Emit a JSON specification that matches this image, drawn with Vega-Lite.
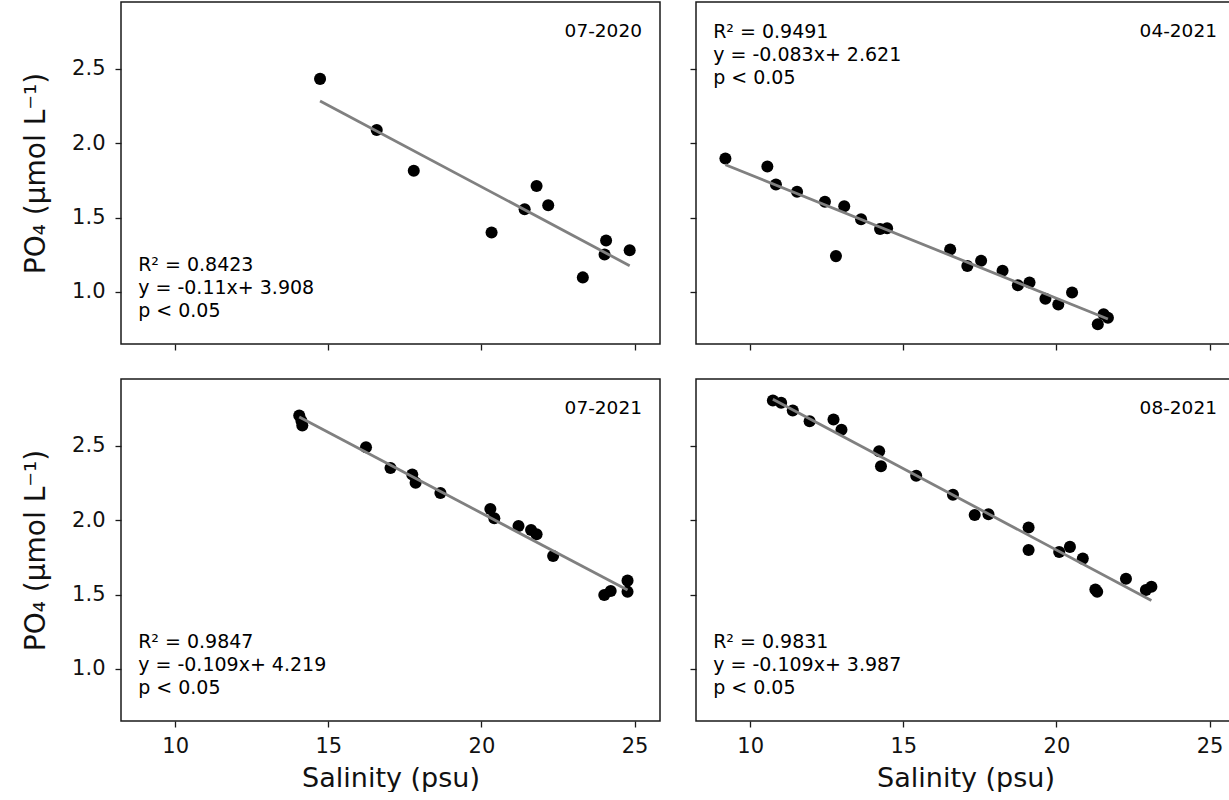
{
  "$schema": "https://vega.github.io/schema/vega-lite/v6.json",
  "background": "white",
  "padding": {"left": 21, "top": 1, "right": 0, "bottom": 0},
  "datasets": {
    "obs": [
      {"panel": "07-2020", "salinity": 14.73, "po4": 2.433},
      {"panel": "07-2020", "salinity": 16.58, "po4": 2.089},
      {"panel": "07-2020", "salinity": 17.79, "po4": 1.815},
      {"panel": "07-2020", "salinity": 20.33, "po4": 1.400},
      {"panel": "07-2020", "salinity": 21.41, "po4": 1.556},
      {"panel": "07-2020", "salinity": 21.80, "po4": 1.712},
      {"panel": "07-2020", "salinity": 22.18, "po4": 1.583},
      {"panel": "07-2020", "salinity": 23.31, "po4": 1.098},
      {"panel": "07-2020", "salinity": 24.02, "po4": 1.252},
      {"panel": "07-2020", "salinity": 24.07, "po4": 1.346},
      {"panel": "07-2020", "salinity": 24.84, "po4": 1.281},
      {"panel": "04-2021", "salinity": 9.19, "po4": 1.897},
      {"panel": "04-2021", "salinity": 10.56, "po4": 1.844},
      {"panel": "04-2021", "salinity": 10.84, "po4": 1.723},
      {"panel": "04-2021", "salinity": 11.53, "po4": 1.674},
      {"panel": "04-2021", "salinity": 12.44, "po4": 1.607},
      {"panel": "04-2021", "salinity": 13.07, "po4": 1.576},
      {"panel": "04-2021", "salinity": 12.80, "po4": 1.241},
      {"panel": "04-2021", "salinity": 13.62, "po4": 1.489},
      {"panel": "04-2021", "salinity": 14.24, "po4": 1.424},
      {"panel": "04-2021", "salinity": 14.47, "po4": 1.428},
      {"panel": "04-2021", "salinity": 16.53, "po4": 1.286},
      {"panel": "04-2021", "salinity": 17.09, "po4": 1.174},
      {"panel": "04-2021", "salinity": 17.54, "po4": 1.210},
      {"panel": "04-2021", "salinity": 18.24, "po4": 1.143},
      {"panel": "04-2021", "salinity": 18.74, "po4": 1.045},
      {"panel": "04-2021", "salinity": 19.12, "po4": 1.063},
      {"panel": "04-2021", "salinity": 19.64, "po4": 0.955},
      {"panel": "04-2021", "salinity": 20.06, "po4": 0.915},
      {"panel": "04-2021", "salinity": 20.51, "po4": 0.996},
      {"panel": "04-2021", "salinity": 21.35, "po4": 0.783},
      {"panel": "04-2021", "salinity": 21.54, "po4": 0.850},
      {"panel": "04-2021", "salinity": 21.68, "po4": 0.826},
      {"panel": "07-2021", "salinity": 14.05, "po4": 2.705},
      {"panel": "07-2021", "salinity": 14.12, "po4": 2.670},
      {"panel": "07-2021", "salinity": 14.15, "po4": 2.637},
      {"panel": "07-2021", "salinity": 16.23, "po4": 2.491},
      {"panel": "07-2021", "salinity": 17.03, "po4": 2.352},
      {"panel": "07-2021", "salinity": 17.74, "po4": 2.307},
      {"panel": "07-2021", "salinity": 17.85, "po4": 2.253},
      {"panel": "07-2021", "salinity": 18.66, "po4": 2.183},
      {"panel": "07-2021", "salinity": 20.29, "po4": 2.075},
      {"panel": "07-2021", "salinity": 20.42, "po4": 2.014},
      {"panel": "07-2021", "salinity": 21.21, "po4": 1.962},
      {"panel": "07-2021", "salinity": 21.62, "po4": 1.935},
      {"panel": "07-2021", "salinity": 21.80, "po4": 1.906},
      {"panel": "07-2021", "salinity": 22.34, "po4": 1.760},
      {"panel": "07-2021", "salinity": 24.01, "po4": 1.497},
      {"panel": "07-2021", "salinity": 24.22, "po4": 1.524},
      {"panel": "07-2021", "salinity": 24.77, "po4": 1.594},
      {"panel": "07-2021", "salinity": 24.77, "po4": 1.520},
      {"panel": "08-2021", "salinity": 10.74, "po4": 2.806},
      {"panel": "08-2021", "salinity": 11.01, "po4": 2.790},
      {"panel": "08-2021", "salinity": 11.39, "po4": 2.738},
      {"panel": "08-2021", "salinity": 11.94, "po4": 2.666},
      {"panel": "08-2021", "salinity": 12.72, "po4": 2.678},
      {"panel": "08-2021", "salinity": 12.98, "po4": 2.608},
      {"panel": "08-2021", "salinity": 14.21, "po4": 2.464},
      {"panel": "08-2021", "salinity": 14.27, "po4": 2.363},
      {"panel": "08-2021", "salinity": 15.42, "po4": 2.300},
      {"panel": "08-2021", "salinity": 16.62, "po4": 2.172},
      {"panel": "08-2021", "salinity": 17.33, "po4": 2.035},
      {"panel": "08-2021", "salinity": 17.78, "po4": 2.041},
      {"panel": "08-2021", "salinity": 19.09, "po4": 1.951},
      {"panel": "08-2021", "salinity": 19.09, "po4": 1.800},
      {"panel": "08-2021", "salinity": 20.09, "po4": 1.787},
      {"panel": "08-2021", "salinity": 20.44, "po4": 1.821},
      {"panel": "08-2021", "salinity": 20.86, "po4": 1.742},
      {"panel": "08-2021", "salinity": 21.27, "po4": 1.535},
      {"panel": "08-2021", "salinity": 21.33, "po4": 1.520},
      {"panel": "08-2021", "salinity": 22.27, "po4": 1.607},
      {"panel": "08-2021", "salinity": 22.92, "po4": 1.531},
      {"panel": "08-2021", "salinity": 23.10, "po4": 1.553}
    ],
    "notes": [
      {"panel": "07-2020", "label": "07-2020", "stats": ["R² = 0.8423", "y = -0.11x+ 3.908", "p < 0.05"]},
      {"panel": "04-2021", "label": "04-2021", "stats": ["R² = 0.9491", "y = -0.083x+ 2.621", "p < 0.05"]},
      {"panel": "07-2021", "label": "07-2021", "stats": ["R² = 0.9847", "y = -0.109x+ 4.219", "p < 0.05"]},
      {"panel": "08-2021", "label": "08-2021", "stats": ["R² = 0.9831", "y = -0.109x+ 3.987", "p < 0.05"]}
    ]
  },
  "columns": 2,
  "spacing": {"row": 26, "column": 27},
  "concat": [
    {
      "width": 539, "height": 342,
      "layer": [
        {
          "data": {"name": "obs"},
          "transform": [{"filter": "datum.panel === '07-2020'"}],
          "mark": {"type": "point", "filled": true, "color": "black", "opacity": 1, "size": 145},
          "encoding": {
            "x": {"field": "salinity", "type": "quantitative", "title": null, "scale": {"domain": [8.23, 25.83], "nice": false, "zero": false}, "axis": {"labels": false, "values": [10, 15, 20, 25]}},
            "y": {"field": "po4", "type": "quantitative", "title": "PO₄ (μmol L⁻¹)", "scale": {"domain": [0.65, 2.95], "nice": false, "zero": false}, "axis": {"values": [1.0, 1.5, 2.0, 2.5], "format": ".1f"}}
          }
        },
        {
          "data": {"name": "obs"},
          "transform": [{"filter": "datum.panel === '07-2020'"}, {"regression": "po4", "on": "salinity"}],
          "mark": {"type": "line", "color": "#808080", "strokeWidth": 2.8},
          "encoding": {
            "x": {"field": "salinity", "type": "quantitative", "title": null, "axis": {"labels": false, "values": [10, 15, 20, 25]}},
            "y": {"field": "po4", "type": "quantitative", "title": "PO₄ (μmol L⁻¹)", "axis": {"values": [1.0, 1.5, 2.0, 2.5], "format": ".1f"}}
          }
        },
        {
          "data": {"name": "notes"},
          "transform": [{"filter": "datum.panel === '07-2020'"}],
          "mark": {"type": "text", "align": "right", "baseline": "alphabetic", "font": "DejaVu Sans", "fontSize": 18.5, "color": "black"},
          "encoding": {
            "x": {"datum": 25.24, "type": "quantitative", "title": null, "axis": {"labels": false, "values": [10, 15, 20, 25]}},
            "y": {"datum": 2.715, "type": "quantitative", "title": "PO₄ (μmol L⁻¹)", "axis": {"values": [1.0, 1.5, 2.0, 2.5], "format": ".1f"}},
            "text": {"field": "label", "type": "nominal"}
          }
        },
        {
          "data": {"name": "notes"},
          "transform": [{"filter": "datum.panel === '07-2020'"}],
          "mark": {"type": "text", "align": "left", "baseline": "alphabetic", "font": "DejaVu Sans", "fontSize": 19, "lineHeight": 23, "color": "black"},
          "encoding": {
            "x": {"datum": 8.79, "type": "quantitative", "title": null, "axis": {"labels": false, "values": [10, 15, 20, 25]}},
            "y": {"datum": 1.141, "type": "quantitative", "title": "PO₄ (μmol L⁻¹)", "axis": {"values": [1.0, 1.5, 2.0, 2.5], "format": ".1f"}},
            "text": {"field": "stats", "type": "nominal"}
          }
        }
      ]
    },
    {
      "width": 539, "height": 342,
      "layer": [
        {
          "data": {"name": "obs"},
          "transform": [{"filter": "datum.panel === '04-2021'"}],
          "mark": {"type": "point", "filled": true, "color": "black", "opacity": 1, "size": 145},
          "encoding": {
            "x": {"field": "salinity", "type": "quantitative", "title": null, "scale": {"domain": [8.23, 25.83], "nice": false, "zero": false}, "axis": {"labels": false, "values": [10, 15, 20, 25]}},
            "y": {"field": "po4", "type": "quantitative", "title": null, "scale": {"domain": [0.65, 2.95], "nice": false, "zero": false}, "axis": {"labels": false, "values": [1.0, 1.5, 2.0, 2.5]}}
          }
        },
        {
          "data": {"name": "obs"},
          "transform": [{"filter": "datum.panel === '04-2021'"}, {"regression": "po4", "on": "salinity"}],
          "mark": {"type": "line", "color": "#808080", "strokeWidth": 2.8},
          "encoding": {
            "x": {"field": "salinity", "type": "quantitative", "title": null, "axis": {"labels": false, "values": [10, 15, 20, 25]}},
            "y": {"field": "po4", "type": "quantitative", "title": null, "axis": {"labels": false, "values": [1.0, 1.5, 2.0, 2.5]}}
          }
        },
        {
          "data": {"name": "notes"},
          "transform": [{"filter": "datum.panel === '04-2021'"}],
          "mark": {"type": "text", "align": "right", "baseline": "alphabetic", "font": "DejaVu Sans", "fontSize": 18.5, "color": "black"},
          "encoding": {
            "x": {"datum": 25.24, "type": "quantitative", "title": null, "axis": {"labels": false, "values": [10, 15, 20, 25]}},
            "y": {"datum": 2.715, "type": "quantitative", "title": null, "axis": {"labels": false, "values": [1.0, 1.5, 2.0, 2.5]}},
            "text": {"field": "label", "type": "nominal"}
          }
        },
        {
          "data": {"name": "notes"},
          "transform": [{"filter": "datum.panel === '04-2021'"}],
          "mark": {"type": "text", "align": "left", "baseline": "alphabetic", "font": "DejaVu Sans", "fontSize": 19, "lineHeight": 23, "color": "black"},
          "encoding": {
            "x": {"datum": 8.79, "type": "quantitative", "title": null, "axis": {"labels": false, "values": [10, 15, 20, 25]}},
            "y": {"datum": 2.705, "type": "quantitative", "title": null, "axis": {"labels": false, "values": [1.0, 1.5, 2.0, 2.5]}},
            "text": {"field": "stats", "type": "nominal"}
          }
        }
      ]
    },
    {
      "width": 539, "height": 342,
      "layer": [
        {
          "data": {"name": "obs"},
          "transform": [{"filter": "datum.panel === '07-2021'"}],
          "mark": {"type": "point", "filled": true, "color": "black", "opacity": 1, "size": 145},
          "encoding": {
            "x": {"field": "salinity", "type": "quantitative", "title": "Salinity (psu)", "scale": {"domain": [8.23, 25.83], "nice": false, "zero": false}, "axis": {"values": [10, 15, 20, 25]}},
            "y": {"field": "po4", "type": "quantitative", "title": "PO₄ (μmol L⁻¹)", "scale": {"domain": [0.65, 2.95], "nice": false, "zero": false}, "axis": {"values": [1.0, 1.5, 2.0, 2.5], "format": ".1f"}}
          }
        },
        {
          "data": {"name": "obs"},
          "transform": [{"filter": "datum.panel === '07-2021'"}, {"regression": "po4", "on": "salinity"}],
          "mark": {"type": "line", "color": "#808080", "strokeWidth": 2.8},
          "encoding": {
            "x": {"field": "salinity", "type": "quantitative", "title": "Salinity (psu)", "axis": {"values": [10, 15, 20, 25]}},
            "y": {"field": "po4", "type": "quantitative", "title": "PO₄ (μmol L⁻¹)", "axis": {"values": [1.0, 1.5, 2.0, 2.5], "format": ".1f"}}
          }
        },
        {
          "data": {"name": "notes"},
          "transform": [{"filter": "datum.panel === '07-2021'"}],
          "mark": {"type": "text", "align": "right", "baseline": "alphabetic", "font": "DejaVu Sans", "fontSize": 18.5, "color": "black"},
          "encoding": {
            "x": {"datum": 25.24, "type": "quantitative", "title": "Salinity (psu)", "axis": {"values": [10, 15, 20, 25]}},
            "y": {"datum": 2.715, "type": "quantitative", "title": "PO₄ (μmol L⁻¹)", "axis": {"values": [1.0, 1.5, 2.0, 2.5], "format": ".1f"}},
            "text": {"field": "label", "type": "nominal"}
          }
        },
        {
          "data": {"name": "notes"},
          "transform": [{"filter": "datum.panel === '07-2021'"}],
          "mark": {"type": "text", "align": "left", "baseline": "alphabetic", "font": "DejaVu Sans", "fontSize": 19, "lineHeight": 23, "color": "black"},
          "encoding": {
            "x": {"datum": 8.79, "type": "quantitative", "title": "Salinity (psu)", "axis": {"values": [10, 15, 20, 25]}},
            "y": {"datum": 1.141, "type": "quantitative", "title": "PO₄ (μmol L⁻¹)", "axis": {"values": [1.0, 1.5, 2.0, 2.5], "format": ".1f"}},
            "text": {"field": "stats", "type": "nominal"}
          }
        }
      ]
    },
    {
      "width": 539, "height": 342,
      "layer": [
        {
          "data": {"name": "obs"},
          "transform": [{"filter": "datum.panel === '08-2021'"}],
          "mark": {"type": "point", "filled": true, "color": "black", "opacity": 1, "size": 145},
          "encoding": {
            "x": {"field": "salinity", "type": "quantitative", "title": "Salinity (psu)", "scale": {"domain": [8.23, 25.83], "nice": false, "zero": false}, "axis": {"values": [10, 15, 20, 25]}},
            "y": {"field": "po4", "type": "quantitative", "title": null, "scale": {"domain": [0.65, 2.95], "nice": false, "zero": false}, "axis": {"labels": false, "values": [1.0, 1.5, 2.0, 2.5]}}
          }
        },
        {
          "data": {"name": "obs"},
          "transform": [{"filter": "datum.panel === '08-2021'"}, {"regression": "po4", "on": "salinity"}],
          "mark": {"type": "line", "color": "#808080", "strokeWidth": 2.8},
          "encoding": {
            "x": {"field": "salinity", "type": "quantitative", "title": "Salinity (psu)", "axis": {"values": [10, 15, 20, 25]}},
            "y": {"field": "po4", "type": "quantitative", "title": null, "axis": {"labels": false, "values": [1.0, 1.5, 2.0, 2.5]}}
          }
        },
        {
          "data": {"name": "notes"},
          "transform": [{"filter": "datum.panel === '08-2021'"}],
          "mark": {"type": "text", "align": "right", "baseline": "alphabetic", "font": "DejaVu Sans", "fontSize": 18.5, "color": "black"},
          "encoding": {
            "x": {"datum": 25.24, "type": "quantitative", "title": "Salinity (psu)", "axis": {"values": [10, 15, 20, 25]}},
            "y": {"datum": 2.715, "type": "quantitative", "title": null, "axis": {"labels": false, "values": [1.0, 1.5, 2.0, 2.5]}},
            "text": {"field": "label", "type": "nominal"}
          }
        },
        {
          "data": {"name": "notes"},
          "transform": [{"filter": "datum.panel === '08-2021'"}],
          "mark": {"type": "text", "align": "left", "baseline": "alphabetic", "font": "DejaVu Sans", "fontSize": 19, "lineHeight": 23, "color": "black"},
          "encoding": {
            "x": {"datum": 8.79, "type": "quantitative", "title": "Salinity (psu)", "axis": {"values": [10, 15, 20, 25]}},
            "y": {"datum": 1.141, "type": "quantitative", "title": null, "axis": {"labels": false, "values": [1.0, 1.5, 2.0, 2.5]}},
            "text": {"field": "stats", "type": "nominal"}
          }
        }
      ]
    }
  ],
  "config": {
    "view": {"stroke": "#1a1a1a", "strokeWidth": 1.5},
    "font": "DejaVu Sans",
    "axis": {
      "domain": false,
      "grid": false,
      "ticks": true,
      "tickColor": "#1a1a1a",
      "tickSize": 6,
      "tickWidth": 1.3,
      "labelFont": "DejaVu Sans",
      "labelFontSize": 21,
      "labelColor": "#111",
      "titleFont": "DejaVu Sans",
      "titleFontWeight": "normal",
      "titleColor": "#111"
    },
    "axisX": {"labelPadding": 8, "titlePadding": 9, "titleFontSize": 27},
    "axisY": {"labelPadding": 10, "titlePadding": 21, "titleFontSize": 28}
  }
}
